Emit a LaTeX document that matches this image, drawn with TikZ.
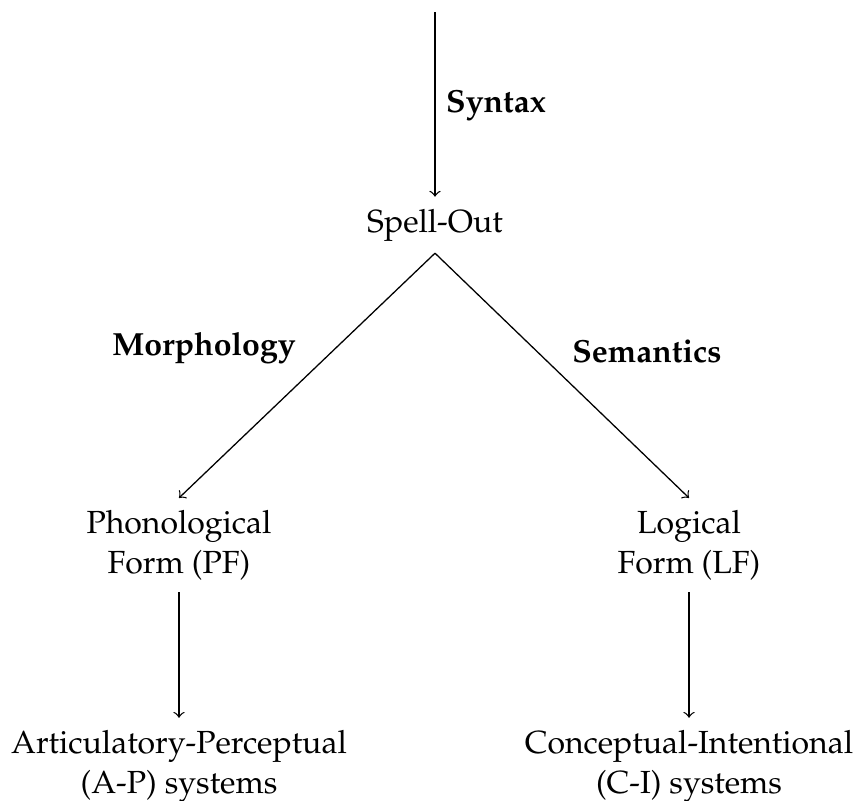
\documentclass[tikz,border=0pt]{standalone}
\usepackage[T1]{fontenc}
\usepackage{mathpazo}
\begin{document}
\begin{tikzpicture}[x=0.3125pt,y=-0.3125pt,
  every node/.style={font=\fontsize{10}{12.5}\selectfont, align=center, inner xsep=0pt, inner ysep=3.6pt},
  lbl/.style={font=\fontsize{10}{12.5}\selectfont\bfseries, anchor=base},
  arr/.style={->, >=to, line width=0.4pt}]
\useasboundingbox (0,0) rectangle (857,800);
% derivation stages
\coordinate (top) at (435,12);
\node[anchor=base] (spell) at (435,232) {Spell-Out};
\node (pf) at (179,545) {Phonological\\Form (PF)};
\node (lf) at (689,545) {Logical\\Form (LF)};
\node (ap) at (179,766) {Articulatory-Perceptual\\(A-P) systems};
\node (ci) at (689,766) {Conceptual-Intentional\\(C-I) systems};
% component labels
\node[lbl] (syn) at (496,112) {Syntax};
\node[lbl] (morph) at (204,355) {Morphology};
\node[lbl] (sem) at (647,362) {Semantics};
% connectors
\draw[arr] (top) -- (spell.north);
\draw[arr] (spell.south) -- (pf.north);
\draw[arr] (spell.south) -- (lf.north);
\draw[arr] (pf.south) -- (ap.north);
\draw[arr] (lf.south) -- (ci.north);
\end{tikzpicture}
\end{document}
